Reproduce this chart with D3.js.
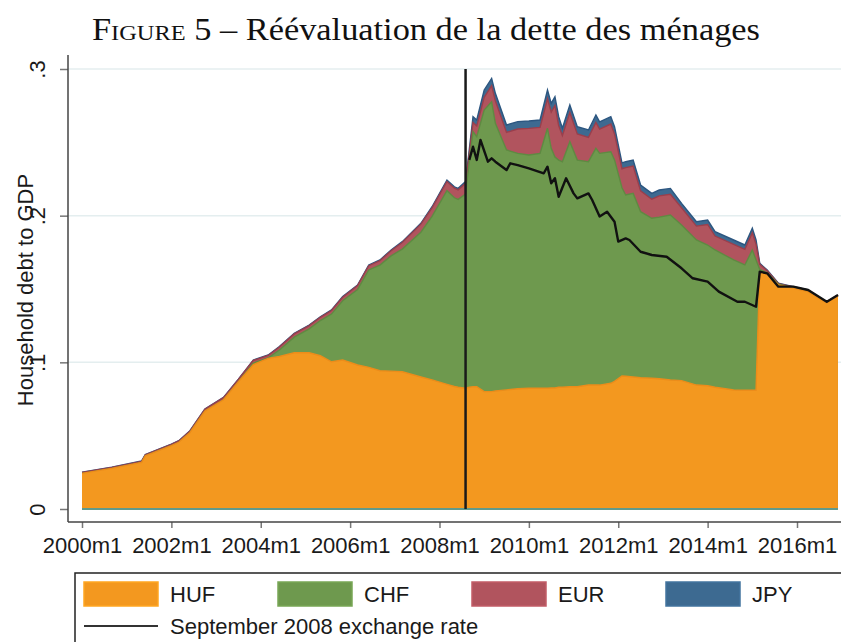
<!DOCTYPE html>
<html>
<head>
<meta charset="utf-8">
<script src="https://cdn.jsdelivr.net/npm/d3@7"></script>
<style>
  body { margin: 0; background: #fff; }
  svg text { font-family: "Liberation Sans", Arial, sans-serif; fill: #1a1a1a; }
</style>
</head>
<body>
<svg></svg>
<script>
// debt to GDP by currency
let months = ["2000m1","2000m9","2001m5","2001m6","2002m1","2002m3","2002m6","2002m10","2003m3","2003m7",
  "2003m11","2004m3","2004m6","2004m10","2005m2","2005m5","2005m8","2005m11","2006m3","2006m6",
  "2006m9","2006m12","2007m3","2007m8","2007m11","2008m3","2008m5","2008m6","2008m8","2008m9",
  "2008m10","2008m11","2009m1","2009m3","2009m4","2009m7","2009m10","2010m1","2010m4","2010m6",
  "2010m7","2010m8","2010m9","2010m10","2010m12","2011m2","2011m5","2011m7","2011m8","2011m11",
  "2011m12","2012m2","2012m3","2012m5","2012m7","2012m10","2012m12","2013m3","2013m6","2013m10",
  "2014m1","2014m3","2014m8","2014m11","2015m1","2015m2","2015m3","2015m5","2015m8","2015m12",
  "2016m4","2016m6","2016m9","2016m12"]

let huf = [.0243,.0277,.0318,.0362,.0432,.0455,.0522,.0668,.0745,.0868,
  .0985,.1027,.1040,.1065,.1065,.1045,.1004,.1016,.0982,.0966,
  .0943,.0940,.0936,.0900,.0880,.0850,.0835,.0830,.0823,.0830,
  .0834,.0834,.0800,.0800,.0805,.0812,.0820,.0823,.0823,.0823,
  .0825,.0825,.0830,.0830,.0834,.0834,.0845,.0845,.0845,.0857,
  .0870,.0907,.0905,.0900,.0895,.0891,.0888,.0880,.0875,.0845,
  .0840,.0830,.0811,.0810,.0810,.0810,.1618,.1600,.1527,.1505,
  .1482,.1450,.1405,.1452]

let chf = [0,0,0,0,0,0,0,0,0,0,
  .0010,.0003,.0044,.0107,.0163,.0240,.0325,.0404,.0515,.0664,
  .0720,.0786,.0836,.0987,.1115,.1320,.1287,.1281,.1324,.1540,
  .1739,.1704,.1920,.1977,.1825,.1636,.1605,.1591,.1602,.1773,
  .1634,.1575,.1549,.1538,.1670,.1545,.1523,.1614,.1580,.1579,
  .1510,.1283,.1236,.1252,.1132,.1091,.1102,.1124,.1061,.0989,
  .0960,.0936,.0887,.0854,.0956,.0888,.0015,.0010,.0005,.0004,
  .0004,.0004,.0004,.0003]

let eur = [.0006,.0006,.0007,.0007,.0008,.0009,.0010,.0012,.0014,.0015,
  .0018,.0017,.0020,.0022,.0022,.0022,.0024,.0024,.0026,.0029,
  .0030,.0035,.0045,.0055,.0058,.0063,.0065,.0065,.0073,.0055,
  .0062,.0074,.0087,.0109,.0154,.0120,.0166,.0181,.0177,.0201,
  .0247,.0351,.0236,.0178,.0200,.0178,.0166,.0177,.0165,.0189,
  .0177,.0130,.0187,.0187,.0142,.0130,.0145,.0142,.0118,.0095,
  .0140,.0095,.0106,.0106,.0118,.0106,.0035,.0015,.0005,.0005,
  .0005,.0004,.0003,.0003]

let jpy = [.0002,.0002,.0002,.0002,.0002,.0002,.0002,.0002,.0002,.0002,
  .0003,.0003,.0003,.0004,.0004,.0004,.0004,.0004,.0004,.0005,
  .0005,.0005,.0006,.0006,.0008,.0010,.0010,.0010,.0012,.0025,
  .0040,.0040,.0050,.0050,.0050,.0050,.0050,.0050,.0050,.0060,
  .0060,.0060,.0060,.0050,.0050,.0050,.0050,.0050,.0050,.0050,
  .0050,.0040,.0040,.0040,.0040,.0040,.0040,.0040,.0030,.0030,
  .0030,.0030,.0030,.0030,.0030,.0030,.0007,.0005,.0002,.0002,
  .0002,.0001,.0001,.0001]

// total at the September 2008 exchange rate
let sepMonths = ["2008m9","2008m10","2008m11","2008m12","2009m2","2009m3","2009m4","2009m7","2009m8","2009m10",
  "2010m1","2010m5","2010m6","2010m7","2010m8","2010m9","2010m11","2011m1","2011m2","2011m5",
  "2011m6","2011m8","2011m10","2011m12","2012m1","2012m3","2012m4","2012m7","2012m10","2013m2",
  "2013m6","2013m9","2014m1","2014m4","2014m9","2014m11","2015m2","2015m3","2015m5","2015m8",
  "2015m12","2016m4","2016m9","2016m12"]
let sepRate = [.2380,.2470,.2380,.2516,.2368,.2391,.2368,.2311,.2357,.2345,
  .2323,.2289,.2334,.2221,.2255,.2129,.2255,.2152,.2118,.2152,
  .2107,.1995,.2027,.1959,.1823,.1845,.1834,.1754,.1732,.1720,
  .1641,.1573,.1550,.1482,.1413,.1413,.1379,.1618,.1607,.1516,
  .1516,.1493,.1413,.1459]

let breakMonth = "2008m8"

let seriesNames = ["HUF", "CHF", "EUR", "JPY"]
let fills = {HUF: "#f3981f", CHF: "#6e994e", EUR: "#b1545e", JPY: "#3d6a91"}
let edges = {HUF: "#ec8c1a", CHF: "#5f8a42", EUR: "#9a3f4c", JPY: "#2c5680"}
let lineLabel = "September 2008 exchange rate"

let xTicks = ["2000m1","2002m1","2004m1","2006m1","2008m1","2010m1","2012m1","2014m1","2016m1"]
let yTicks = [0, 0.1, 0.2, 0.3]
let yTickLabels = ["0", ".1", ".2", ".3"]

let width = 841
let height = 642
let axisX = 68
let axisY = 522

let svg = d3.select('svg').attr('width', width).attr('height', height)

let monthIndex = (s) => {
  let p = s.split('m')
  return (+p[0] - 2000) * 12 + (+p[1] - 1)
}

let x = d3.scaleLinear().domain([0, 192]).range([82, 797])
let y = d3.scaleLinear().domain([0, 0.3]).range([509, 69])

// title
let title = svg.append('text')
  .attr('x', 426).attr('y', 40)
  .attr('text-anchor', 'middle')
  .attr('textLength', 668)
  .attr('lengthAdjust', 'spacingAndGlyphs')
  .style('font-family', '"Liberation Serif", "DejaVu Serif", serif')
  .style('font-size', '31px')
  .style('fill', '#111')
title.append('tspan').style('font-variant', 'small-caps').text('Figure')
title.append('tspan').text(' 5 – Réévaluation de la dette des ménages')

// gridlines
svg.append('g').selectAll('line')
  .data(yTicks.slice(1))
  .join('line')
  .attr('x1', axisX).attr('x2', width)
  .attr('y1', d => y(d)).attr('y2', d => y(d))
  .attr('stroke', '#e4eeef').attr('stroke-width', 1.5)

// stacked areas, drawn from the total downwards
let rows = months.map((m, i) => ({m: monthIndex(m), HUF: huf[i], CHF: chf[i], EUR: eur[i], JPY: jpy[i]}))
let stacked = d3.stack().keys(seriesNames)(rows)

let area = d3.area()
  .x(d => x(d.data.m))
  .y0(y(0))
  .y1(d => y(d[1]))
let topLine = d3.line()
  .x(d => x(d.data.m))
  .y(d => y(d[1]))

let layers = svg.append('g')
stacked.slice().reverse().forEach(s => {
  layers.append('path').attr('d', area(s)).attr('fill', fills[s.key])
  layers.append('path').attr('d', topLine(s)).attr('fill', 'none')
    .attr('stroke', edges[s.key]).attr('stroke-width', 1.4)
})

// zero line under the areas
svg.append('line')
  .attr('x1', x(monthIndex(months[0]))).attr('x2', x(monthIndex(months[months.length - 1])))
  .attr('y1', y(0)).attr('y2', y(0))
  .attr('stroke', '#5f9a8c').attr('stroke-width', 2)

// September 2008 exchange rate line
let sepLine = d3.line()
  .x((d, i) => x(monthIndex(sepMonths[i])))
  .y(d => y(d))
svg.append('path')
  .attr('d', sepLine(sepRate))
  .attr('fill', 'none')
  .attr('stroke', '#111')
  .attr('stroke-width', 2.4)
  .attr('stroke-linejoin', 'round')

// vertical marker
svg.append('line')
  .attr('x1', x(monthIndex(breakMonth))).attr('x2', x(monthIndex(breakMonth)))
  .attr('y1', y(0.3)).attr('y2', y(0))
  .attr('stroke', '#1a1a1a').attr('stroke-width', 2.5)

// axes
let xAxis = d3.axisBottom(x)
  .tickValues(xTicks.map(monthIndex))
  .tickFormat((d, i) => xTicks[i])
  .tickSize(6)
  .tickPadding(9)
let gx = svg.append('g').attr('transform', `translate(0,${axisY})`).call(xAxis)
gx.select('.domain').remove()
gx.selectAll('.tick line').attr('stroke', '#777').attr('stroke-width', 1.5)
gx.selectAll('.tick text').style('font-size', '22px').style('font-family', '"Liberation Sans", Arial, sans-serif').attr('fill', '#1a1a1a')

let yAxis = d3.axisLeft(y)
  .tickValues(yTicks)
  .tickFormat((d, i) => yTickLabels[i])
  .tickSize(8)
let gy = svg.append('g').attr('transform', `translate(${axisX},0)`).call(yAxis)
gy.select('.domain').remove()
gy.selectAll('.tick line').attr('stroke', '#777').attr('stroke-width', 1.5)
gy.selectAll('.tick text')
  .attr('x', null).attr('dy', null)
  .attr('text-anchor', 'middle')
  .attr('transform', 'translate(-23,0) rotate(-90)')
  .style('font-size', '22px').style('font-family', '"Liberation Sans", Arial, sans-serif').attr('fill', '#1a1a1a')

svg.append('line').attr('x1', axisX).attr('x2', axisX).attr('y1', 55).attr('y2', axisY)
  .attr('stroke', '#444').attr('stroke-width', 1.5)
svg.append('line').attr('x1', axisX).attr('x2', width).attr('y1', axisY).attr('y2', axisY)
  .attr('stroke', '#444').attr('stroke-width', 1.5)

svg.append('text')
  .attr('transform', 'translate(33,290) rotate(-90)')
  .attr('text-anchor', 'middle')
  .style('font-size', '22px')
  .text('Household debt to GDP')

// legend
let legend = svg.append('g')
legend.append('rect')
  .attr('x', 75).attr('y', 573).attr('width', 800).attr('height', 100)
  .attr('fill', '#fff').attr('stroke', '#222').attr('stroke-width', 1.5)

let items = legend.selectAll('g.item')
  .data(seriesNames)
  .join('g')
  .attr('class', 'item')
  .attr('transform', (d, i) => `translate(${84 + i * 194},582)`)
items.append('rect')
  .attr('width', 74).attr('height', 24)
  .attr('fill', d => fills[d])
  .attr('stroke', d => d3.color(fills[d]).brighter(0.25))
  .attr('stroke-width', 1.5)
items.append('text')
  .attr('x', 86).attr('y', 20)
  .style('font-size', '22px')
  .text(d => d)

legend.append('line')
  .attr('x1', 84).attr('x2', 158).attr('y1', 626).attr('y2', 626)
  .attr('stroke', '#333').attr('stroke-width', 2)
legend.append('text')
  .attr('x', 170).attr('y', 634)
  .style('font-size', '22px')
  .text(lineLabel)
</script>
</body>
</html>
